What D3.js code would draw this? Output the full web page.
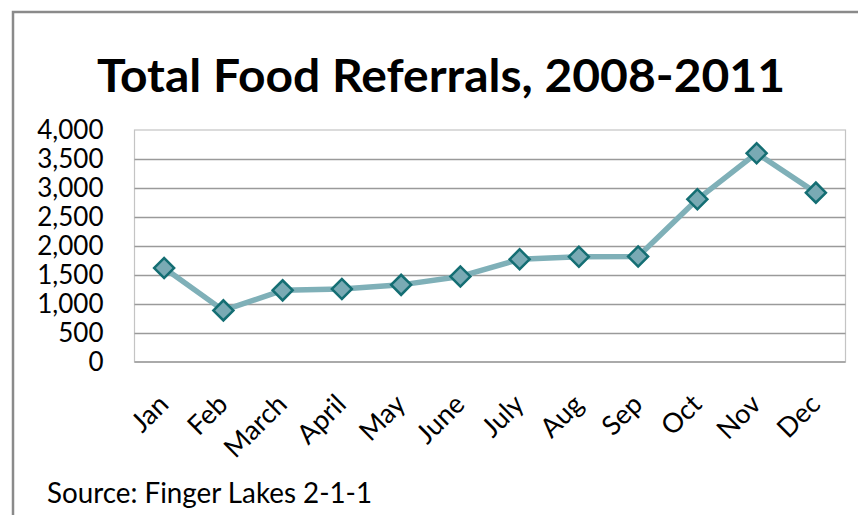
<!DOCTYPE html>
<html>
<head>
<meta charset="utf-8">
<script src="https://cdn.jsdelivr.net/npm/d3@7"></script>
<style>
  body { margin: 0; background: #fff; }
  svg { display: block; font-family: Lato, "Open Sans", sans-serif; }
</style>
</head>
<body>
<div id="chart"></div>
<script>
// data
var months = ["Jan", "Feb", "March", "April", "May", "June", "July", "Aug", "Sep", "Oct", "Nov", "Dec"];
var referrals = [1620, 890, 1235, 1260, 1330, 1475, 1770, 1815, 1820, 2805, 3600, 2920];
var yTicks = [0, 500, 1000, 1500, 2000, 2500, 3000, 3500, 4000];
var title = "Total Food Referrals, 2008-2011";
var source = "Source: Finger Lakes 2-1-1";

var width = 858, height = 515;
var plot = {left: 134.5, right: 845.5, top: 130, bottom: 362};

var svg = d3.select('#chart')
  .append('svg')
  .attr('width', width)
  .attr('height', height);

// outer frame (runs off the right and bottom edges)
svg.append('rect')
  .attr('x', 13).attr('y', 12)
  .attr('width', 900).attr('height', 600)
  .attr('fill', 'none')
  .attr('stroke', '#8a8a8a')
  .attr('stroke-width', 2.5);

svg.append('text')
  .attr('x', 97).attr('y', 92)
  .attr('textLength', 688)
  .attr('lengthAdjust', 'spacingAndGlyphs')
  .style('font-size', '46px')
  .style('font-weight', 'bold')
  .attr('fill', '#000')
  .text(title);

var x = d3.scaleBand()
  .domain(months)
  .range([plot.left, plot.right]);

var y = d3.scaleLinear()
  .domain([0, 4000])
  .range([plot.bottom, plot.top]);

// plot area border
svg.append('rect')
  .attr('x', plot.left).attr('y', plot.top)
  .attr('width', plot.right - plot.left)
  .attr('height', plot.bottom - plot.top)
  .attr('fill', 'none')
  .attr('stroke', '#c4c4c4')
  .attr('stroke-width', 1.2);

// gridlines
svg.append('g')
  .selectAll('line')
  .data(yTicks.filter(function(d) { return d > 0 && d < 4000; }))
  .enter().append('line')
  .attr('x1', plot.left).attr('x2', plot.right)
  .attr('y1', function(d) { return Math.round(y(d)) + 0.5; })
  .attr('y2', function(d) { return Math.round(y(d)) + 0.5; })
  .attr('stroke', '#9a9a9a')
  .attr('stroke-width', 1.4);

svg.append('line')
  .attr('x1', plot.left).attr('x2', plot.right)
  .attr('y1', y(0)).attr('y2', y(0))
  .attr('stroke', '#9a9a9a')
  .attr('stroke-width', 1.4);

// y axis labels
var yAxis = svg.append('g')
  .attr('transform', 'translate(' + (plot.left - 31) + ',0)')
  .call(d3.axisLeft(y).tickValues(yTicks).tickSize(0).tickPadding(0).tickFormat(d3.format(',')));
yAxis.select('.domain').remove();
yAxis.selectAll('text')
  .attr('fill', '#000')
  .style('font-family', 'Lato, sans-serif')
  .style('font-size', '26px');

// x axis labels, rotated
svg.append('g')
  .selectAll('text')
  .data(months)
  .enter().append('text')
  .attr('transform', function(d) {
    return 'translate(' + (x(d) + x.bandwidth() / 2 + 6) + ',' + 406 + ') rotate(-45)';
  })
  .attr('text-anchor', 'end')
  .style('font-size', '27px')
  .attr('fill', '#000')
  .text(function(d) { return d; });

// line
var line = d3.line()
  .x(function(d, i) { return x(months[i]) + x.bandwidth() / 2; })
  .y(function(d) { return y(d); });

svg.append('path')
  .datum(referrals)
  .attr('d', line)
  .attr('fill', 'none')
  .attr('stroke', '#7fb0b8')
  .attr('stroke-width', 5.5)
  .attr('stroke-linejoin', 'round');

// diamond markers
var symbol = d3.symbol().type(d3.symbolSquare).size(200);
svg.append('g')
  .selectAll('path')
  .data(referrals)
  .enter().append('path')
  .attr('d', symbol)
  .attr('transform', function(d, i) {
    return 'translate(' + (x(months[i]) + x.bandwidth() / 2) + ',' + y(d) + ') rotate(45)';
  })
  .attr('fill', '#79aab4')
  .attr('stroke', '#146e73')
  .attr('stroke-width', 2.5);

svg.append('text')
  .attr('x', 47).attr('y', 503)
  .attr('textLength', 325)
  .attr('lengthAdjust', 'spacingAndGlyphs')
  .style('font-size', '28px')
  .attr('fill', '#000')
  .text(source);
</script>
</body>
</html>
